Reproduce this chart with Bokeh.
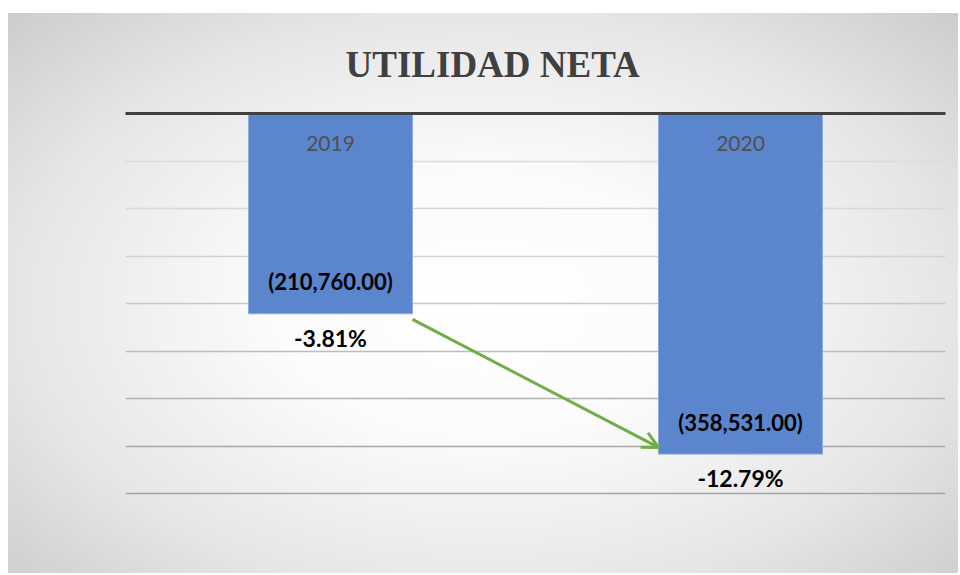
from bokeh.plotting import figure
from bokeh.models import Range1d, LinearAxis, FixedTicker, Arrow, OpenHead, ColumnDataSource
from bokeh.core.properties import value
from bokeh.embed import file_html
from bokeh.resources import INLINE

# ---- data ----
years = ["2019", "2020"]
utilidad = [-210760.00, -358531.00]
value_labels = ["(210,760.00)", "(358,531.00)"]
pct_labels = ["-3.81%", "-12.79%"]
grid_ticks = [-50000, -100000, -150000, -200000, -250000, -300000, -350000, -400000]

# ---- styles ----
bar_width = 0.4
xpos = [i + 0.5 for i in range(len(years))]
grid_colors = ["#dcdcdc", "#d8d8d8", "#d2d2d2", "#c8c8c8", "#bcbcbc", "#b2b2b2", "#a8a8a8", "#a4a4a4"]

p = figure(width=950, height=560, x_range=Range1d(0, 2), y_range=Range1d(-420000, 0),
           output_backend="svg", toolbar_location=None,
           x_axis_location=None, y_axis_location=None,
           min_border_left=117, min_border_right=13, min_border_top=99, min_border_bottom=61)
p.background_fill_alpha = 0
p.border_fill_alpha = 0
p.outline_line_color = None
p.xgrid.visible = False
p.ygrid.visible = False
p.styles = {"margin-top": "13px", "margin-left": "8px",
            "background": "radial-gradient(ellipse 75% 80% at 50% 52%, #ffffff 0%, #fbfbfb 30%, #e6e6e6 65%, #c6c6c6 100%)"}

p.title.text = "UTILIDAD NETA"
p.title.text_font = "'Liberation Sans Narrow', 'Liberation Serif'"
p.title.text_font_style = "bold"
p.title.text_font_size = "37px"
p.title.text_color = "#404040"
p.title.align = "left"
p.title.offset = 220
p.title.standoff = 57

top_axis = LinearAxis(ticker=FixedTicker(ticks=[]), axis_line_width=3, axis_line_color="#404040",
                      major_tick_line_color=None, minor_tick_line_color=None,
                      major_label_text_font_size="0px")
p.add_layout(top_axis, "above")

# gridlines
p.hspan(y=grid_ticks, line_color=grid_colors, line_width=1.5)

src = ColumnDataSource(dict(x=xpos, y=utilidad, year=years, val=value_labels, pct=pct_labels,
                            zero=[0] * len(years)))

p.vbar(x="x", top="zero", bottom="y", width=bar_width, source=src,
       fill_color="#5b85cc", line_color="#8fabdc", line_width=1)

p.text(x="x", y="zero", text="year", source=src, y_offset=30,
       text_align="center", text_baseline="middle",
       text_font=value("Lato"), text_font_size="21px", text_color="#505050")
p.text(x="x", y="y", text="val", source=src, y_offset=-32,
       text_align="center", text_baseline="middle",
       text_font=value("Lato"), text_font_style="bold", text_font_size="22px", text_color="#000000")
p.text(x="x", y="y", text="pct", source=src, y_offset=24,
       text_align="center", text_baseline="middle",
       text_font=value("Lato"), text_font_style="bold", text_font_size="23px", text_color="#000000")

arrow = Arrow(x_start=xpos[0] + bar_width / 2, y_start=utilidad[0] - 6000,
              x_end=xpos[1] - bar_width / 2, y_end=utilidad[1] + 7000,
              line_color="#70ad47", line_width=3,
              end=OpenHead(size=16, line_color="#70ad47", line_width=3))
p.add_layout(arrow)

open("out.html", "w").write(file_html(p, INLINE))
